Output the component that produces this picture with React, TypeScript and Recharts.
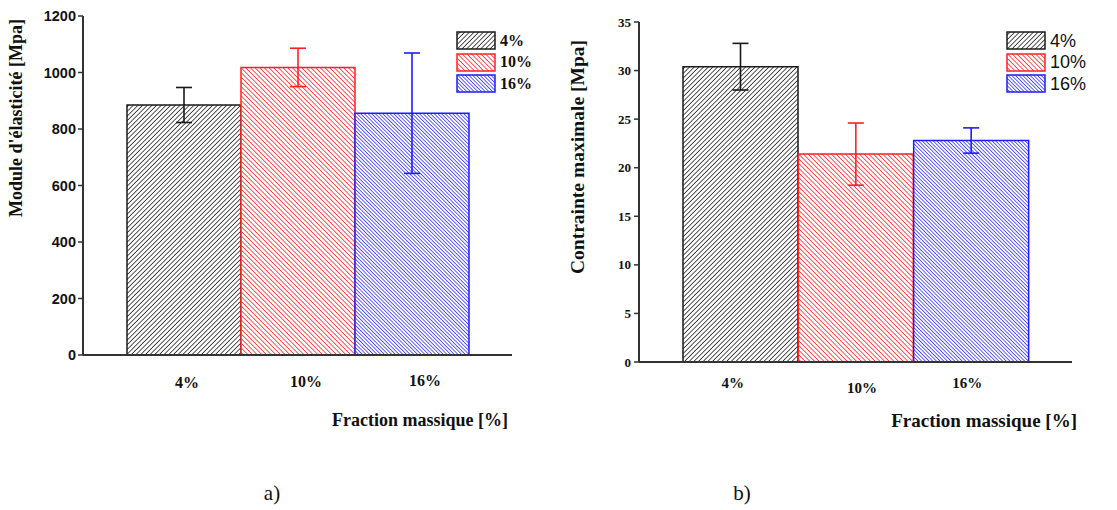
import React from "react";
import { BarChart, Bar, XAxis, YAxis, ErrorBar, Legend } from "recharts";

// categories
const fractions = ["4%", "10%", "16%"];

// a) Module d'élasticité [Mpa]
const moduleValues = [885, 1018, 856];
const moduleErrors = [62, 68, 213];
const moduleTicks = [0, 200, 400, 600, 800, 1000, 1200];

// b) Contrainte maximale [Mpa]
const contrainteValues = [30.4, 21.4, 22.8];
const contrainteErrors = [2.4, 3.2, 1.3];
const contrainteTicks = [0, 5, 10, 15, 20, 25, 30, 35];

const seriesColors = ["#1a1a1a", "#ff2020", "#1c1cff"];
const seriesPatterns = ["hatch-black", "hatch-red", "hatch-blue"];

const SERIF = "'Liberation Serif', 'Times New Roman', serif";
const SANS = "'Liberation Sans', Arial, sans-serif";

const buildRows = (values: number[], errors: number[]) =>
  fractions.map((f, i) => {
    const row: any = { cat: f };
    row[`v${i}`] = values[i];
    row[`e${i}`] = errors[i];
    return row;
  });

const moduleRows = buildRows(moduleValues, moduleErrors);
const contrainteRows = buildRows(contrainteValues, contrainteErrors);

const Patterns = () => (
  <svg width={0} height={0} style={{ position: "absolute" }}>
    <defs>
      <pattern id="hatch-black" patternUnits="userSpaceOnUse" width={3.3} height={3.3} patternTransform="rotate(45)">
        <rect width={3.3} height={3.3} fill="#fff" />
        <line x1={0} y1={0} x2={0} y2={3.3} stroke="#1a1a1a" strokeWidth={1.5} />
      </pattern>
      <pattern id="hatch-red" patternUnits="userSpaceOnUse" width={3.3} height={3.3} patternTransform="rotate(-45)">
        <rect width={3.3} height={3.3} fill="#fff" />
        <line x1={0} y1={0} x2={0} y2={3.3} stroke="#ff2020" strokeWidth={1.5} />
      </pattern>
      <pattern id="hatch-blue" patternUnits="userSpaceOnUse" width={2.6} height={2.6} patternTransform="rotate(-45)">
        <rect width={2.6} height={2.6} fill="#fff" />
        <line x1={0} y1={0} x2={0} y2={2.6} stroke="#1c1cff" strokeWidth={1.4} />
      </pattern>
    </defs>
  </svg>
);

const makeLegend = (font: string, weight: string, size: number) => () => (
  <div style={{ display: "flex", flexDirection: "column" }}>
    {fractions.map((f, i) => (
      <div key={f} style={{ display: "flex", alignItems: "center", height: 21.5 }}>
        <svg width={40} height={19}>
          <rect x={1} y={1} width={38} height={17} fill={`url(#${seriesPatterns[i]})`} stroke={seriesColors[i]} strokeWidth={1.5} />
        </svg>
        <span style={{ fontFamily: font, fontWeight: weight, fontSize: size, color: "#111", marginLeft: 4, lineHeight: 1 }}>
          {f}
        </span>
      </div>
    ))}
  </div>
);

const makeCatTick = (dxs: number[], dys: number[], size: number) => (props: any) => {
  const { x, y, payload, index } = props;
  return (
    <text
      x={x + dxs[index]}
      y={y + dys[index]}
      textAnchor="middle"
      dominantBaseline="central"
      fontFamily={SERIF}
      fontWeight="bold"
      fontSize={size}
      fill="#111"
    >
      {payload.value}
    </text>
  );
};

const renderBars = () =>
  fractions.map((f, i) => (
    <Bar
      key={f}
      dataKey={`v${i}`}
      stackId="a"
      fill={`url(#${seriesPatterns[i]})`}
      stroke={seriesColors[i]}
      strokeWidth={1.5}
      isAnimationActive={false}
    >
      <ErrorBar dataKey={`e${i}`} width={8} stroke={seriesColors[i]} strokeWidth={1.6} direction="y" />
    </Bar>
  ));

const axisColor = "#333";
const frameColor = "#777";

export default function App() {
  return (
    <div style={{ position: "absolute", left: 0, top: 0, width: 1117, height: 510, background: "#fff", overflow: "hidden" }}>
      <Patterns />
      <div style={{ position: "absolute", left: 0, top: 0 }}>
        <BarChart width={560} height={440} data={moduleRows} barCategoryGap={0} margin={{ top: 16, right: 48, bottom: 45, left: 33 }}>
          <XAxis
            dataKey="cat"
            height={40}
            padding={{ left: 44, right: 43 }}
            axisLine={{ stroke: axisColor, strokeWidth: 2 }}
            tickLine={false}
            tickSize={0}
            tickMargin={0}
            tick={makeCatTick([3, 8, 13], [27, 26, 25], 16)}
            interval={0}
          />
          <XAxis xAxisId="top" dataKey="cat" orientation="top" height={0} tick={false} tickLine={false} axisLine={{ stroke: frameColor, strokeWidth: 1.5 }} />
          <YAxis
            width={50}
            domain={[0, 1200]}
            ticks={moduleTicks}
            interval={0}
            tickSize={5}
            tickMargin={2}
            axisLine={{ stroke: axisColor, strokeWidth: 2 }}
            tickLine={{ stroke: axisColor, strokeWidth: 1.5 }}
            tick={{ fontFamily: SANS, fontWeight: "bold", fontSize: 14.5, fill: "#111" }}
          />
          <YAxis yAxisId="right" orientation="right" width={0} domain={[0, 1200]} tick={false} tickLine={false} axisLine={{ stroke: frameColor, strokeWidth: 1.5 }} />
          {renderBars()}
          <Legend
            layout="vertical"
            align="center"
            verticalAlign="middle"
            content={makeLegend(SERIF, "bold", 16)}
            wrapperStyle={{ left: 456, top: 30, width: 90, height: 70 }}
          />
        </BarChart>
      </div>

      <div style={{ position: "absolute", left: 560, top: 0 }}>
        <BarChart width={557} height={440} data={contrainteRows} barCategoryGap={0} margin={{ top: 22, right: 45, bottom: 38, left: 39 }}>
          <XAxis
            dataKey="cat"
            height={40}
            padding={{ left: 44, right: 43 }}
            axisLine={{ stroke: axisColor, strokeWidth: 2 }}
            tickLine={false}
            tickSize={0}
            tickMargin={0}
            tick={makeCatTick([-8, 6, -4], [21, 26, 21], 15)}
            interval={0}
          />
          <XAxis xAxisId="top" dataKey="cat" orientation="top" height={0} tick={false} tickLine={false} axisLine={{ stroke: frameColor, strokeWidth: 1.5 }} />
          <YAxis
            width={40}
            domain={[0, 35]}
            ticks={contrainteTicks}
            interval={0}
            tickSize={5}
            tickMargin={3}
            axisLine={{ stroke: axisColor, strokeWidth: 2 }}
            tickLine={{ stroke: axisColor, strokeWidth: 1.5 }}
            tick={{ fontFamily: SERIF, fontWeight: "bold", fontSize: 13, fill: "#111" }}
          />
          <YAxis yAxisId="right" orientation="right" width={0} domain={[0, 35]} tick={false} tickLine={false} axisLine={{ stroke: frameColor, strokeWidth: 1.5 }} />
          {renderBars()}
          <Legend
            layout="vertical"
            align="center"
            verticalAlign="middle"
            content={makeLegend(SANS, "normal", 18)}
            wrapperStyle={{ left: 446, top: 30, width: 90, height: 70 }}
          />
        </BarChart>
      </div>

      <svg width={1117} height={510} style={{ position: "absolute", left: 0, top: 0, pointerEvents: "none" }}>
        <text transform="translate(16,118) rotate(-90)" textAnchor="middle" dominantBaseline="central" fontFamily={SERIF} fontWeight="bold" fontSize={18} fill="#111">
          Module d'élasticité [Mpa]
        </text>
        <text x={508} y={420} textAnchor="end" dominantBaseline="central" fontFamily={SERIF} fontWeight="bold" fontSize={18} fill="#111">
          Fraction massique [%]
        </text>
        <text transform="translate(577,157) rotate(-90)" textAnchor="middle" dominantBaseline="central" fontFamily={SERIF} fontWeight="bold" fontSize={19.5} fill="#111">
          Contrainte maximale [Mpa]
        </text>
        <text x={1077} y={420} textAnchor="end" dominantBaseline="central" fontFamily={SERIF} fontWeight="bold" fontSize={19} fill="#111">
          Fraction massique [%]
        </text>
        <text x={272} y={493} textAnchor="middle" dominantBaseline="central" fontFamily={SERIF} fontSize={21} fill="#111">
          a)
        </text>
        <text x={742} y={493} textAnchor="middle" dominantBaseline="central" fontFamily={SERIF} fontSize={21} fill="#111">
          b)
        </text>
      </svg>
    </div>
  );
}
